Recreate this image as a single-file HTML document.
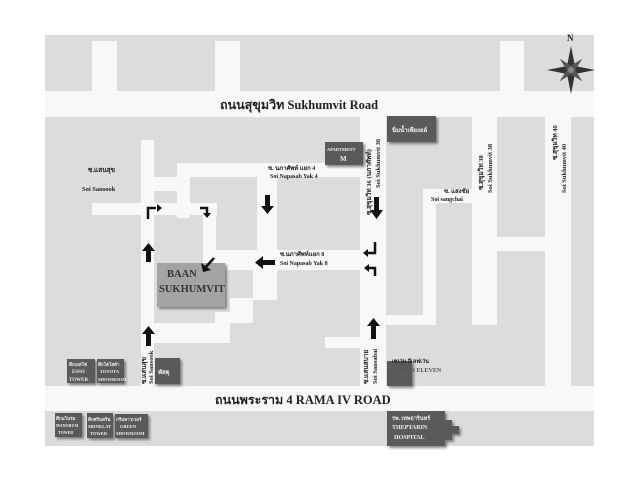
<!DOCTYPE html>
<html><head><meta charset="utf-8"><style>
html,body{margin:0;padding:0;background:#fff;}
svg{display:block;}
text{font-family:"Liberation Serif","Noto Serif CJK SC",serif;font-weight:bold;fill:#222;}
</style></head><body>
<svg width="640" height="480" viewBox="0 0 640 480" xmlns="http://www.w3.org/2000/svg">
<defs>
<filter id="sh" x="-20%" y="-20%" width="150%" height="150%"><feDropShadow dx="2" dy="2" stdDeviation="1.2" flood-color="#555" flood-opacity="0.7"/></filter>
</defs>
<rect x="45" y="35" width="549" height="411" fill="#dcdcdc"/>
<g fill="#f8f8f8">
<!-- top strips -->
<rect x="92" y="41" width="25" height="52"/>
<rect x="215" y="41" width="25" height="52"/>
<rect x="500" y="41" width="24" height="52"/>
<!-- Sukhumvit -->
<rect x="45" y="91" width="549" height="26"/>
<!-- Rama IV -->
<rect x="45" y="386" width="549" height="25"/>
<!-- Soi 36 -->
<rect x="360" y="117" width="26" height="270"/>
<!-- Soi 38 -->
<rect x="472" y="117" width="25" height="208"/>
<!-- Soi 40 -->
<rect x="545" y="117" width="26" height="270"/>
<rect x="497" y="237" width="48" height="14"/>
<!-- Sangchai -->
<rect x="423" y="189" width="49" height="14"/>
<rect x="423" y="189" width="13" height="136"/>
<rect x="386" y="315" width="50" height="10"/>
<!-- Soi Sansook -->
<rect x="141" y="140" width="13" height="247"/>
<rect x="92" y="203" width="125" height="12"/>
<rect x="141" y="177" width="49" height="14"/>
<rect x="177" y="163" width="13" height="55"/>
<rect x="177" y="163" width="183" height="14"/>
<rect x="203" y="203" width="13" height="67"/>
<rect x="257" y="177" width="20" height="123"/>
<rect x="203" y="250" width="157" height="20"/>
<polygon points="253,270 277,270 277,300 253,300 253,323 230,323 230,343 154,343 154,323 215,323 215,312 230,312 230,298 253,298"/>
<rect x="325" y="337" width="35" height="11"/>
</g>
<!-- buildings -->
<g filter="url(#sh)">
<rect x="387" y="116" width="49" height="26" fill="#5a5a5a"/>
<rect x="325" y="142" width="38" height="23" fill="#5a5a5a"/>
<rect x="157" y="263" width="68" height="44" fill="#a3a3a3"/>
<rect x="67" y="359" width="28" height="24" fill="#5a5a5a"/>
<rect x="97" y="359" width="27" height="24" fill="#5a5a5a"/>
<rect x="155" y="358" width="25" height="26" fill="#5a5a5a"/>
<rect x="387" y="361" width="25" height="25" fill="#5a5a5a"/>
<rect x="55" y="413" width="27" height="24" fill="#5a5a5a"/>
<rect x="87" y="413" width="26" height="25" fill="#5a5a5a"/>
<rect x="115" y="414" width="33" height="24" fill="#5a5a5a"/>
<rect x="387" y="411" width="58" height="35" fill="#5a5a5a"/>
<polygon points="445,420 452,420 452,426 459,426 459,434 452,434 452,440 445,440" fill="#5a5a5a"/>
</g>
<!-- compass -->
<g transform="translate(571,70)" fill="#333">
<polygon points="0,-24 4,-4 24,0 4,4 0,24 -4,4 -24,0 -4,-4"/>
<polygon points="0,-16 3,-3 16,0 3,3 0,16 -3,3 -16,0 -3,-3" transform="rotate(45)" fill="#555"/>
<circle r="3" fill="#888"/>
</g>
<text x="567" y="41" font-size="9">N</text>
<!-- arrows -->
<g fill="#111" stroke="#111">
<g stroke="none">
<polygon points="265,195 270,195 270,206 274,206 267.5,214 261,206 265,206"/>
<polygon points="374,197 379,197 379,210 383,210 376.5,219 370,210 374,210"/>
<polygon points="146,262 151,262 151,251 155,251 148.5,243 142,251 146,251"/>
<polygon points="146,346 151,346 151,334 155,334 148.5,326 142,334 146,334"/>
<polygon points="371,339 376,339 376,326 380,326 373.5,318 367,326 371,326"/>
<polygon points="275,260 275,265 263,265 263,269 255,262.5 263,256 263,260"/>
</g>
<g fill="none" stroke-width="2.5">
<path d="M148,219 V208 H156"/>
<path d="M200,208 H207 V214"/>
<path d="M375,242 V253 H367"/>
<path d="M375,276 V268 H368"/>
<path d="M214,258 L205,268"/>
</g>
<g stroke="none">
<polygon points="157,204 162,208 157,212"/>
<polygon points="203,213 211,213 207,218"/>
<polygon points="368,249 363,253 368,257"/>
<polygon points="369,264 364,268 369,272"/>
<polygon points="201,263 203,272 211,270"/>
</g>
</g>
<!-- labels -->
<text x="220" y="109" font-size="12.5">ถนนสุขุมวิท  Sukhumvit Road</text>
<text x="215" y="404" font-size="12.5">ถนนพระราม 4  RAMA IV ROAD</text>
<text x="88" y="172" font-size="6.5">ซ.แสนสุข</text>
<text x="82" y="191" font-size="6.5">Soi Sansook</text>
<text x="268" y="170" font-size="6">ซ. นภาศัพท์ แยก 4</text>
<text x="270" y="178" font-size="6">Soi Napasab Yak 4</text>
<text x="280" y="256" font-size="6">ซ.นภาศัพท์แยก 8</text>
<text x="280" y="265" font-size="6">Soi Napasab Yak 8</text>
<text x="444" y="193" font-size="6">ซ. แสงชัย</text>
<text x="431" y="201" font-size="6">Soi sangchai</text>
<text x="167" y="277" font-size="10.5" fill="#333" style="fill:#333">BAAN</text>
<text x="159" y="292" font-size="10.5" style="fill:#333">SUKHUMVIT</text>
<g font-size="6" style="fill:#eee">
<text x="392" y="132" style="fill:#eee" font-size="6">นิ่มน้ำเพียงยล์</text>
<text x="327" y="151" style="fill:#eee" font-size="4.5">APARTMENT</text>
<text x="340" y="161" style="fill:#eee" font-size="7">M</text>
<text x="69" y="366" style="fill:#eee" font-size="4.5">ตึกเอสโซ่</text>
<text x="72" y="373" style="fill:#eee" font-size="5">ESSO</text>
<text x="69" y="381" style="fill:#eee" font-size="5">TOWER</text>
<text x="98" y="366" style="fill:#eee" font-size="4.5">ตึกโตโยต้า</text>
<text x="100" y="373" style="fill:#eee" font-size="4.5">TOYOTA</text>
<text x="98" y="381" style="fill:#eee" font-size="4.5">SHOWROOM</text>
<text x="158" y="374" style="fill:#eee" font-size="6">พัสดุ</text>
<text x="56" y="420" style="fill:#eee" font-size="4.5">ตึกมโนรม</text>
<text x="56" y="427" style="fill:#eee" font-size="4">MANORUM</text>
<text x="58" y="434" style="fill:#eee" font-size="4">TOWER</text>
<text x="88" y="421" style="fill:#eee" font-size="4.5">ตึกศรีนคริน</text>
<text x="88" y="428" style="fill:#eee" font-size="4.5">SRINKLAT</text>
<text x="90" y="435" style="fill:#eee" font-size="4.5">TOWER</text>
<text x="116" y="421" style="fill:#eee" font-size="4.5">กรีนพาวเวอร์</text>
<text x="120" y="428" style="fill:#eee" font-size="4.5">GREEN</text>
<text x="116" y="435" style="fill:#eee" font-size="4.5">SHOWROOM</text>
<text x="392" y="420" style="fill:#eee" font-size="5.5">รพ. เทพธารินทร์</text>
<text x="392" y="429" style="fill:#eee" font-size="6">THEPTARIN</text>
<text x="394" y="439" style="fill:#eee" font-size="6">HOSPITAL</text>
</g>
<text x="392" y="363" font-size="5.5">เซเว่น อีเลฟเว่น</text>
<text x="395" y="372" font-size="6" style="fill:#555">SEVEN ELEVEN</text>
<!-- vertical labels -->
<g font-size="6.5">
<text transform="translate(371,215) rotate(-90)">ซ.สุขุมวิท 36 (นภาศัพท์)</text>
<text transform="translate(380,188) rotate(-90)">Soi Sukhumvit 36</text>
<text transform="translate(483,190) rotate(-90)">ซ.สุขุมวิท 38</text>
<text transform="translate(492,193) rotate(-90)">Soi Sukhumvit 38</text>
<text transform="translate(557,160) rotate(-90)">ซ.สุขุมวิท 40</text>
<text transform="translate(566,193) rotate(-90)">Soi Sukhumvit 40</text>
<text transform="translate(146,384) rotate(-90)">ซ.แสนสุข</text>
<text transform="translate(153,384) rotate(-90)">Soi Sansook</text>
<text transform="translate(368,384) rotate(-90)">ซ.แสนสบาย</text>
<text transform="translate(377,384) rotate(-90)">Soi Sansabai</text>
</g>
</svg>
</body></html>
